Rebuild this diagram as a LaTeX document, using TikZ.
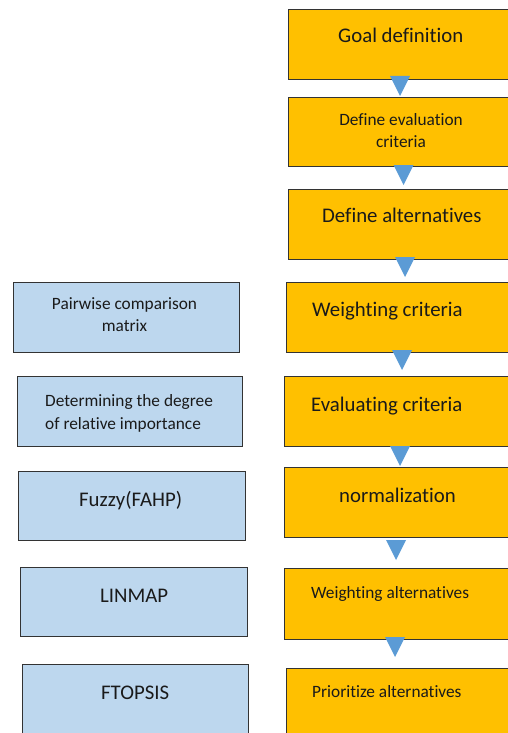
\documentclass[tikz,border=0pt]{standalone}
\usepackage{fontspec}
\setmainfont{Carlito}[Ligatures={NoCommon}]
\definecolor{ofill}{HTML}{FFC000}
\definecolor{bfill}{HTML}{BDD7EE}
\definecolor{tfill}{HTML}{5B9BD5}
\definecolor{edge}{HTML}{333333}
\definecolor{ink}{HTML}{1A1A1A}
\newcommand\bigtxt{\fontsize{20.8}{25}\selectfont}
\newcommand\smalltxt{\fontsize{17.3}{22.5}\selectfont}
\tikzset{
  obox/.style={draw=edge, line width=1.3pt, fill=ofill, rectangle, inner sep=0pt, anchor=north west},
  bbox/.style={draw=edge, line width=1.3pt, fill=bfill, rectangle, inner sep=0pt, anchor=north west},
  lbl/.style={inner sep=0pt, text=ink, anchor=base west},
  big/.style={font=\bigtxt},
  small/.style={font=\smalltxt},
  downtri/.pic={\fill[tfill] (-10,0) -- (10,0) -- (0,20) -- cycle;}
}
\newcommand\mkbox[6]{\node[#1, minimum width=#5pt-#3pt, minimum height=#6pt-#4pt] (#2) at (#3,#4) {};}
\begin{document}
\begin{tikzpicture}[x=1pt,y=-1pt]
\useasboundingbox (0,0) rectangle (508,733);
\clip (0,0) rectangle (508,733);
% orange process boxes
\mkbox{obox}{o1}{288}{9}{580}{79}
\mkbox{obox}{o2}{288}{97}{580}{166}
\mkbox{obox}{o3}{288}{189}{580}{259}
\mkbox{obox}{o4}{286}{282}{580}{352}
\mkbox{obox}{o5}{284}{376}{580}{446}
\mkbox{obox}{o6}{284}{467}{580}{537}
\mkbox{obox}{o7}{284}{568}{580}{639}
\mkbox{obox}{o8}{286}{668}{580}{760}
% blue method boxes
\mkbox{bbox}{b1}{13}{282}{239}{352}
\mkbox{bbox}{b2}{17}{376}{242}{446}
\mkbox{bbox}{b3}{18}{471}{245}{540}
\mkbox{bbox}{b4}{20}{567}{247}{636}
\mkbox{bbox}{b5}{22}{664}{248}{760}
% labels
\node[lbl, big] (l1) at (338,43) {Goal definition};
\node[small, inner sep=0pt, text=ink, align=center, anchor=center] (l2) at (401,130.5) {Define evaluation\\criteria};
\node[lbl, big] (l3) at (322,222) {Define alternatives};
\node[lbl, big] (l4) at (312,316) {Weighting criteria};
\node[lbl, big] (l5) at (311,411) {Evaluating criteria};
\node[lbl, big] (l6) at (339,502) {normalization};
\node[lbl, small] (l7) at (311,598) {Weighting alternatives};
\node[lbl, small] (l8) at (312,697) {Prioritize alternatives};
\node[small, inner sep=0pt, text=ink, align=center, anchor=center] (m1) at (124.5,314.5) {Pairwise comparison\\matrix};
\node[small, inner sep=0pt, text=ink, align=left, anchor=west] (m2) at (45,413.5) {Determining the degree\\of relative importance};
\node[lbl, big] (m3) at (79,506) {Fuzzy(FAHP)};
\node[lbl, big] (m4) at (100,602) {LINMAP};
\node[lbl, big] (m5) at (101,699) {FTOPSIS};
% connector triangles
\pic at (400,76) {downtri};
\pic at (403.5,165) {downtri};
\pic at (405,257) {downtri};
\pic at (402,350) {downtri};
\pic at (400,446) {downtri};
\pic at (396,540) {downtri};
\pic at (395,637) {downtri};
\end{tikzpicture}
\end{document}
